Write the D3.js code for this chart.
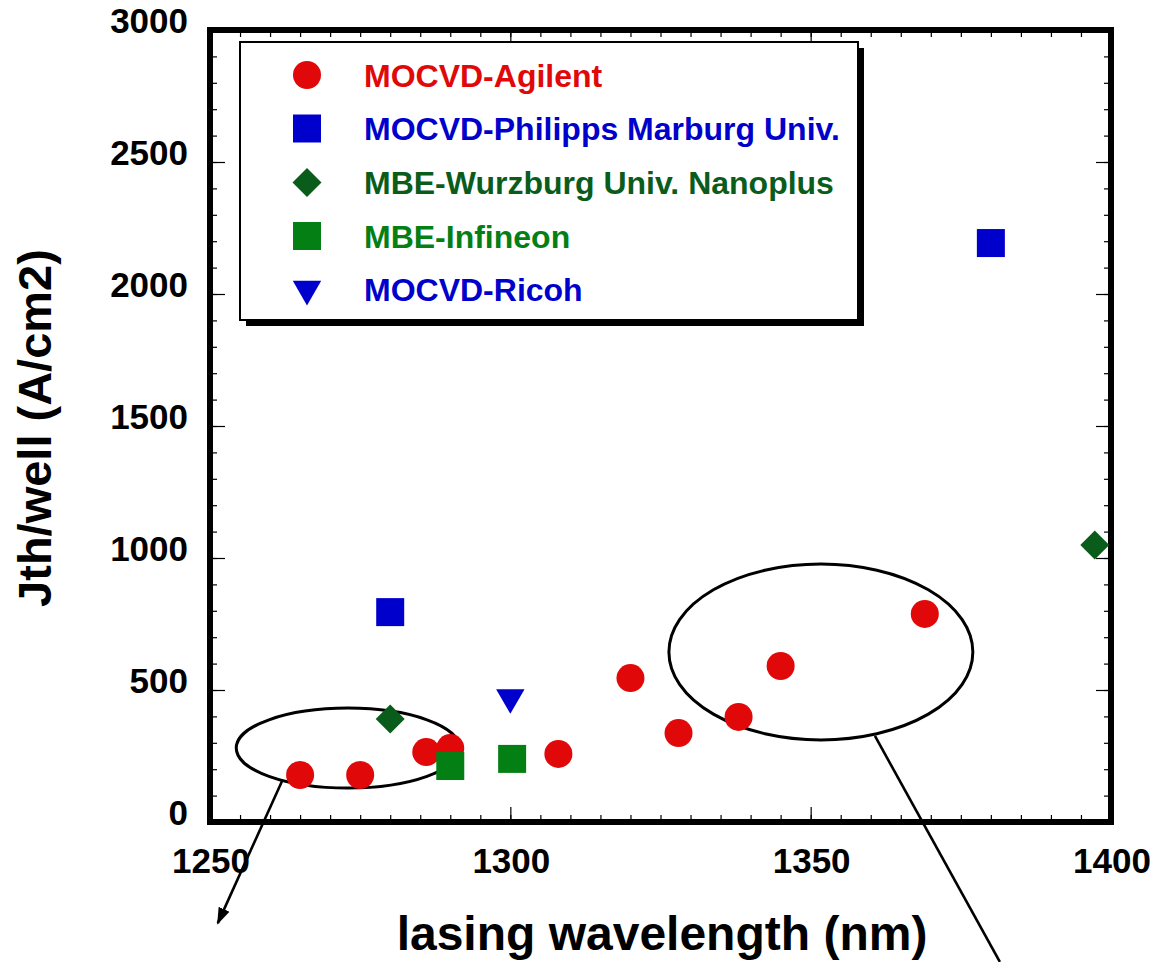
<!DOCTYPE html>
<html>
<head>
<meta charset="utf-8">
<script src="https://cdn.jsdelivr.net/npm/d3@7"></script>
<style>
  html, body { margin: 0; padding: 0; background: #fff; }
  svg { display: block; }
  text { font-family: "Liberation Sans", Arial, sans-serif; font-weight: bold; }
</style>
</head>
<body>
<svg id="chart" width="1157" height="962"></svg>
<script>
// ---------- data ----------
const agilentX = [1265, 1275, 1286, 1290, 1308, 1320, 1328, 1338, 1345, 1369];
const agilentY = [178, 178, 265, 280, 258, 545, 337, 398, 591, 788];
const philippsX = [1280, 1380];
const philippsY = [795, 2193];
const wurzburgX = [1280, 1397.3];
const wurzburgY = [390, 1049];
const infineonX = [1290, 1300.3];
const infineonY = [212, 239];
const ricohX = [1300];
const ricohY = [472];

const seriesNames = ["MOCVD-Agilent", "MOCVD-Philipps Marburg Univ.", "MBE-Wurzburg Univ. Nanoplus", "MBE-Infineon", "MOCVD-Ricoh"];
const xTickLabels = [1250, 1300, 1350, 1400];
const yTickLabels = [0, 500, 1000, 1500, 2000, 2500, 3000];
const xTitle = "lasing wavelength (nm)";
const yTitle = "Jth/well (A/cm2)";

// annotation ellipses (center x, center y, radius x in nm, radius y in A/cm2)
const ellipseCx = [1272.97, 1351.7];
const ellipseCy = [280, 644];
const ellipseRx = [18.6, 25.3];
const ellipseRy = [151.5, 333];
// annotation pointer lines (from -> to), the first with an arrowhead
const pointerX1 = [1262.0, 1360.7];
const pointerY1 = [155, 326];
const pointerX2 = [1251.3, 1381.5];
const pointerY2 = [-383, -530];
const pointerArrow = [true, false];

// ---------- styles ----------
const colors = ["#e00808", "#0000cc", "#0a5c1a", "#037f14", "#0000cc"];
const shapes = ["circle", "square", "diamond", "square", "triangle"];

const svg = d3.select("#chart");
const pLeft = 210, pRight = 1111, pTop = 30, pBottom = 822;
const x = d3.scaleLinear().domain([1250, 1400]).range([pLeft, pRight]);
const y = d3.scaleLinear().domain([0, 3000]).range([pBottom, pTop]);

function symPath(shape) {
  if (shape === "circle") return d3.symbol(d3.symbolCircle, Math.PI * 14 * 14)();
  if (shape === "square") return d3.symbol(d3.symbolSquare, 28 * 28)();
  if (shape === "diamond") return d3.symbol(d3.symbolSquare, 20.5 * 20.5)();
  if (shape === "triangle") return d3.symbol(d3.symbolTriangle, 350)();
}
function symRot(shape) {
  if (shape === "diamond") return 45;
  if (shape === "triangle") return 180;
  return 0;
}

// ---------- ticks ----------
const minorX = d3.range(1250, 1400.01, 5);
const majorX = xTickLabels;
const minorY = d3.range(0, 3000.01, 100);
const majorY = yTickLabels;

function drawAxis(axis, transform) {
  const g = svg.append("g").attr("transform", transform).call(axis);
  g.select(".domain").remove();
  g.selectAll("text").remove();
  g.selectAll("line").attr("stroke", "#000").attr("stroke-width", 1.2);
}
drawAxis(d3.axisBottom(x).tickValues(minorX).tickSize(-7).tickFormat(""), `translate(0,${pBottom})`);
drawAxis(d3.axisBottom(x).tickValues(majorX).tickSize(-15).tickFormat(""), `translate(0,${pBottom})`);
drawAxis(d3.axisTop(x).tickValues(minorX).tickSize(-7).tickFormat(""), `translate(0,${pTop})`);
drawAxis(d3.axisTop(x).tickValues(majorX).tickSize(-15).tickFormat(""), `translate(0,${pTop})`);
drawAxis(d3.axisLeft(y).tickValues(minorY).tickSize(-7).tickFormat(""), `translate(${pLeft},0)`);
drawAxis(d3.axisLeft(y).tickValues(majorY).tickSize(-15).tickFormat(""), `translate(${pLeft},0)`);
drawAxis(d3.axisRight(y).tickValues(minorY).tickSize(-7).tickFormat(""), `translate(${pRight},0)`);
drawAxis(d3.axisRight(y).tickValues(majorY).tickSize(-15).tickFormat(""), `translate(${pRight},0)`);

// ---------- frame ----------
svg.append("rect")
  .attr("x", pLeft).attr("y", pTop)
  .attr("width", pRight - pLeft).attr("height", pBottom - pTop)
  .attr("fill", "none").attr("stroke", "#000").attr("stroke-width", 6);

// ---------- tick labels ----------
svg.append("g").selectAll("text").data(xTickLabels).join("text")
  .attr("x", d => x(d) + 1).attr("y", 873)
  .attr("text-anchor", "middle").attr("font-size", 35).attr("fill", "#000")
  .text(d => d);
svg.append("g").selectAll("text").data(yTickLabels).join("text")
  .attr("x", 188).attr("y", d => y(d) + 3)
  .attr("text-anchor", "end").attr("font-size", 35).attr("fill", "#000")
  .text(d => d);

// ---------- axis titles ----------
svg.append("text").attr("x", 662).attr("y", 950)
  .attr("text-anchor", "middle").attr("font-size", 48).attr("fill", "#000")
  .text(xTitle);
svg.append("text").attr("transform", "translate(51,428) rotate(-90)")
  .attr("text-anchor", "middle").attr("font-size", 47).attr("fill", "#000")
  .text(yTitle);

// ---------- annotations ----------
const defs = svg.append("defs");
defs.append("marker").attr("id", "arrow")
  .attr("viewBox", "0 0 10 10").attr("refX", 9).attr("refY", 5)
  .attr("markerWidth", 6.5).attr("markerHeight", 6.5).attr("markerUnits", "strokeWidth")
  .attr("orient", "auto")
  .append("path").attr("d", "M0,1.5 L10,5 L0,8.5 Z").attr("fill", "#000");

const ann = svg.append("g");
ann.selectAll("ellipse").data(d3.range(ellipseCx.length)).join("ellipse")
  .attr("cx", i => x(ellipseCx[i])).attr("cy", i => y(ellipseCy[i]))
  .attr("rx", i => x(ellipseCx[i] + ellipseRx[i]) - x(ellipseCx[i]))
  .attr("ry", i => y(ellipseCy[i] - ellipseRy[i]) - y(ellipseCy[i]))
  .attr("fill", "none").attr("stroke", "#000").attr("stroke-width", 3);
ann.selectAll("line").data(d3.range(pointerX1.length)).join("line")
  .attr("x1", i => x(pointerX1[i])).attr("y1", i => y(pointerY1[i]))
  .attr("x2", i => x(pointerX2[i])).attr("y2", i => y(pointerY2[i]))
  .attr("stroke", "#000").attr("stroke-width", 2.6)
  .attr("marker-end", i => pointerArrow[i] ? "url(#arrow)" : null);

// ---------- data points ----------
const seriesX = [agilentX, philippsX, wurzburgX, infineonX, ricohX];
const seriesY = [agilentY, philippsY, wurzburgY, infineonY, ricohY];
const pts = svg.append("g");
seriesX.forEach((xs, s) => {
  pts.append("g").selectAll("path").data(d3.range(xs.length)).join("path")
    .attr("d", symPath(shapes[s]))
    .attr("transform", i => `translate(${x(xs[i])},${y(seriesY[s][i])}) rotate(${symRot(shapes[s])})`)
    .attr("fill", colors[s]);
});

// ---------- legend ----------
const lg = svg.append("g");
const lx = 240, ly = 42, lw = 618, lh = 278;
lg.append("rect").attr("x", lx + 6).attr("y", ly + 6).attr("width", lw).attr("height", lh).attr("fill", "#000");
lg.append("rect").attr("x", lx).attr("y", ly).attr("width", lw).attr("height", lh)
  .attr("fill", "#fff").attr("stroke", "#000").attr("stroke-width", 2);
const rowY = [75, 128.5, 182.5, 236, 289];
seriesNames.forEach((name, s) => {
  lg.append("path").attr("d", symPath(shapes[s]))
    .attr("transform", `translate(307,${rowY[s]}) rotate(${symRot(shapes[s])})`)
    .attr("fill", colors[s]);
  lg.append("text").attr("x", 364).attr("y", rowY[s] + 11.5)
    .attr("font-size", 32).attr("fill", colors[s]).text(name);
});
</script>
</body>
</html>
